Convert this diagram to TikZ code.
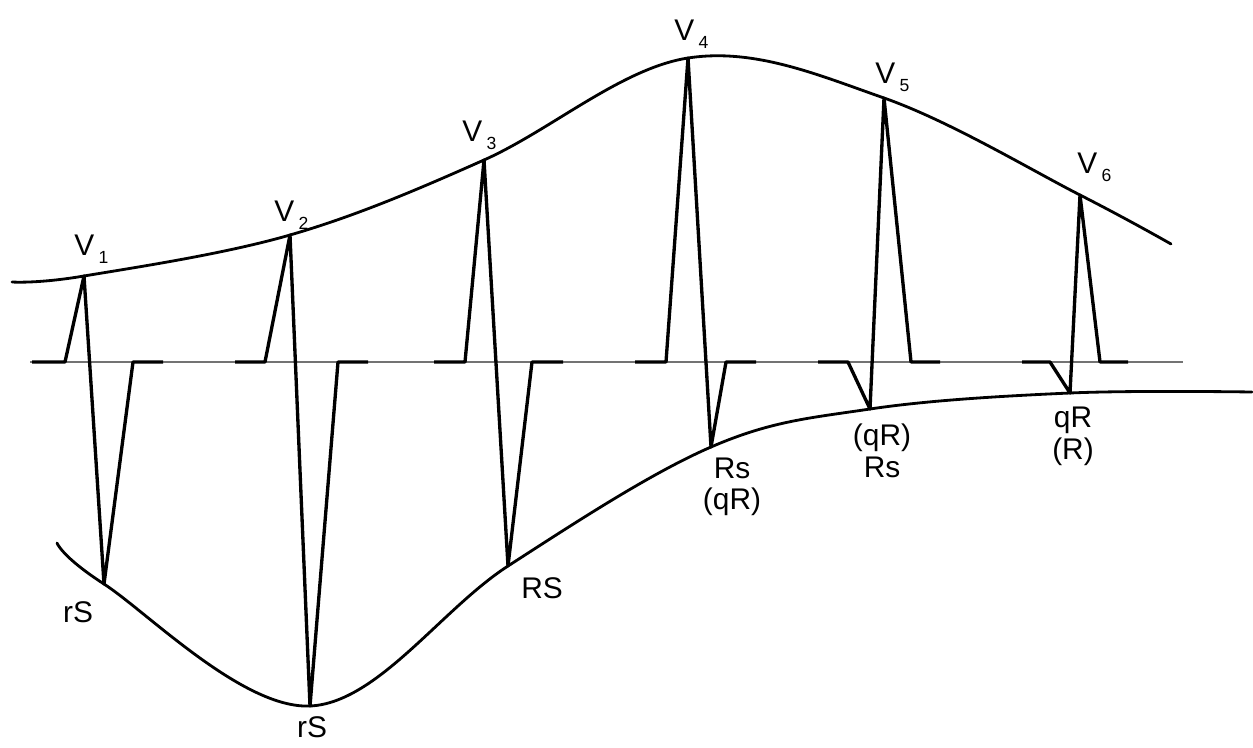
\documentclass[tikz,border=0pt]{standalone}
\usepackage{fontspec}
\setmainfont{Liberation Sans}
\usetikzlibrary{positioning}

\newcommand{\leadname}[1]{V\kern2.5pt\raisebox{-5pt}{\fontsize{10}{10}\selectfont #1}}

\begin{document}
\begin{tikzpicture}[x=0.02cm, y=-0.02cm,
  envelope/.style={line width=1.6pt, line cap=round},
  trace/.style={line width=1.9pt, line join=round},
  zero/.style={line width=0.9pt, black!55},
  lead/.style={font=\fontsize{17}{17}\selectfont, anchor=base west, inner sep=0pt},
  wave/.style={font=\fontsize{17}{18}\selectfont, align=center, inner sep=0pt}
]
\useasboundingbox (0,0) rectangle (1253,747);

% isoelectric line
\coordinate (z0) at (30,362);
\coordinate (z1) at (1183,362);
\draw[zero] (z0) -- (z1);

% R peaks
\coordinate (r1) at (84,276);
\coordinate (r2) at (290,235);
\coordinate (r3) at (484,160);
\coordinate (r4) at (688,58);
\coordinate (r5) at (884,98);
\coordinate (r6) at (1080,195);

% S / q troughs
\coordinate (s1) at (104,584);
\coordinate (s2) at (310,706);
\coordinate (s3) at (508,566);
\coordinate (s4) at (711,447);
\coordinate (s5) at (870,409);
\coordinate (s6) at (1070,393);

% envelopes
\draw[envelope] plot[smooth, tension=0.6] coordinates {(12,282) (r1) (r2) (r3) (r4) (r5) (r6) (1171,244)};
\draw[envelope] plot[smooth, tension=0.6] coordinates {(57,543) (s1) (s2) (s3) (s4) (s5) (s6) (1252,392)};

% QRS complexes
\draw[trace] (32,362) -- (65,362) -- (r1) -- (s1) -- (133,362) -- (163,362);
\draw[trace] (235,362) -- (265,362) -- (r2) -- (s2) -- (338,362) -- (368,362);
\draw[trace] (434,362) -- (465,362) -- (r3) -- (s3) -- (532,362) -- (563,362);
\draw[trace] (635,362) -- (666,362) -- (r4) -- (s4) -- (726,362) -- (756,362);
\draw[trace] (818,362) -- (848,362) -- (s5) -- (r5) -- (911,362) -- (940,362);
\draw[trace] (1022,362) -- (1050,362) -- (s6) -- (r6) -- (1100,362) -- (1128,362);

% lead names
\node[lead] (v1) at (74,255) {\leadname{1}};
\node[lead] (v2) at (274,221) {\leadname{2}};
\node[lead] (v3) at (462,141) {\leadname{3}};
\node[lead] (v4) at (674,40) {\leadname{4}};
\node[lead] (v5) at (875,83) {\leadname{5}};
\node[lead] (v6) at (1077,173) {\leadname{6}};

% complex names
\node[wave] (w1) at (78,612) {rS};
\node[wave] (w2) at (312,727) {rS};
\node[wave] (w3) at (542,588) {RS};
\node[wave] (w4) at (732,487) {Rs\\(qR)};
\node[wave] (w5) at (882,451) {(qR)\\Rs};
\node[wave] (w6) at (1073,436) {qR\\(R)};
\end{tikzpicture}
\end{document}
